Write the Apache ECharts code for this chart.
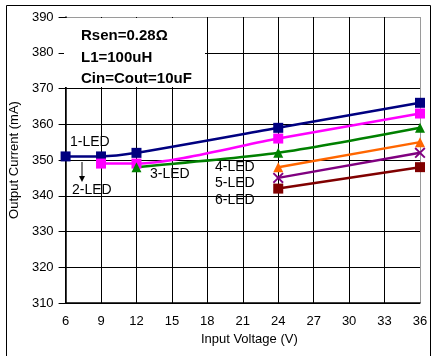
<!DOCTYPE html>
<html>
<head>
<meta charset="utf-8">
<script src="https://cdn.jsdelivr.net/npm/echarts@6/dist/echarts.min.js"></script>
<style>
html,body{margin:0;padding:0;background:#fff;}
#c{width:433px;height:356px;}
</style>
</head>
<body>
<div id="c"></div>
<script>
// ---- data ----
const xTicks = [6, 9, 12, 15, 18, 21, 24, 27, 30, 33, 36];
const yTicks = [310, 320, 330, 340, 350, 360, 370, 380, 390];
const v1 = [6, 9, 12, 24, 36];
const led1 = [351, 351, 352, 359, 366];
const v2 = [9, 12, 24, 36];
const led2 = [349, 349, 356, 363];
const v3 = [12, 24, 36];
const led3 = [348, 352, 359];
const v4 = [24, 36];
const led4 = [348, 355];
const v5 = [24, 36];
const led5 = [345, 352];
const v6 = [24, 36];
const led6 = [342, 348];
const seriesNames = ['1-LED', '2-LED', '3-LED', '4-LED', '5-LED', '6-LED'];
const notes = ['Rsen=0.28\u03A9', 'L1=100uH', 'Cin=Cout=10uF'];

const FONT = '"Liberation Sans", Arial, sans-serif';
const pair = (xs, ys) => xs.map((x, i) => [x, ys[i]]);
const X_PATH = 'path://M0,1.2L1.2,0L5,3.8L8.8,0L10,1.2L6.2,5L10,8.8L8.8,10L5,6.2L1.2,10L0,8.8L3.8,5Z';

function mk(name, data, color, symbol, size) {
  return {
    name: name, type: 'line', data: data, smooth: 0.25,
    symbol: symbol, symbolSize: size, showSymbol: true,
    lineStyle: {color: color, width: 2.5},
    itemStyle: {color: color},
    z: 5
  };
}

const gridColors = yTicks.map((t, i) => i === yTicks.length - 1 ? '#9a9a9a' : '#000');
const xGridColors = xTicks.map((t, i) => i === xTicks.length - 1 ? '#9a9a9a' : '#000');

const chart = echarts.init(document.getElementById('c'), null, {renderer: 'canvas'});
chart.setOption({
  animation: false,
  backgroundColor: '#fff',
  grid: {left: 63, top: 17, width: 357, height: 286, show: false},
  xAxis: {
    type: 'value', min: xTicks[0], max: xTicks[xTicks.length - 1], interval: 3,
    name: 'Input Voltage (V)', nameLocation: 'middle', nameGap: 27,
    nameTextStyle: {fontFamily: FONT, fontSize: 13, color: '#000', padding: [0, 0, 0, 13]},
    axisLine: {show: true, lineStyle: {color: '#000', width: 1.5}},
    axisTick: {show: false},
    axisLabel: {fontFamily: FONT, fontSize: 13, color: '#000', margin: 12},
    splitLine: {show: true, lineStyle: {color: xGridColors, width: 1}}
  },
  yAxis: {
    type: 'value', min: yTicks[0], max: yTicks[yTicks.length - 1], interval: 10,
    name: 'Output Current (mA)', nameLocation: 'middle', nameGap: 34,
    nameTextStyle: {fontFamily: FONT, fontSize: 13, color: '#000'},
    axisLine: {show: true, lineStyle: {color: '#000', width: 1.5}},
    axisTick: {show: true, inside: false, length: 7, lineStyle: {color: '#000'}},
    axisLabel: {fontFamily: FONT, fontSize: 13, color: '#000', margin: 12},
    splitLine: {show: true, lineStyle: {color: gridColors, width: 1}}
  },
  series: [
    mk(seriesNames[0], pair(v1, led1), '#000080', 'rect', 10),
    mk(seriesNames[1], pair(v2, led2), '#ff00ff', 'rect', 10),
    mk(seriesNames[2], pair(v3, led3), '#008000', 'triangle', 10),
    mk(seriesNames[3], pair(v4, led4), '#ff6600', 'triangle', 10),
    mk(seriesNames[4], pair(v5, led5), '#800080', X_PATH, 11),
    mk(seriesNames[5], pair(v6, led6), '#800000', 'rect', 10)
  ],
  graphic: [
    {type: 'rect', z: 1, shape: {x: 6.5, y: 5.5, width: 424, height: 360},
     style: {fill: 'none', stroke: '#000', lineWidth: 1}},
    {type: 'rect', z: 1, shape: {x: 64, y: 18, width: 141, height: 69},
     style: {fill: '#fff', stroke: 'none'}},
    {type: 'text', z: 10, x: 81, y: 36, style: {text: notes[0], font: 'bold 15px ' + FONT, fill: '#000', verticalAlign: 'middle'}},
    {type: 'text', z: 10, x: 81, y: 58, style: {text: notes[1], font: 'bold 15px ' + FONT, fill: '#000', verticalAlign: 'middle'}},
    {type: 'text', z: 10, x: 81, y: 79, style: {text: notes[2], font: 'bold 15px ' + FONT, fill: '#000', verticalAlign: 'middle'}},
    {type: 'text', z: 10, x: 70, y: 142, style: {text: seriesNames[0], font: '14px ' + FONT, fill: '#000', verticalAlign: 'middle'}},
    {type: 'text', z: 10, x: 72, y: 190, style: {text: seriesNames[1], font: '14px ' + FONT, fill: '#000', verticalAlign: 'middle'}},
    {type: 'text', z: 10, x: 150, y: 174, style: {text: seriesNames[2], font: '14px ' + FONT, fill: '#000', verticalAlign: 'middle'}},
    {type: 'text', z: 10, x: 215, y: 167, style: {text: seriesNames[3], font: '14px ' + FONT, fill: '#000', verticalAlign: 'middle'}},
    {type: 'text', z: 10, x: 215, y: 183, style: {text: seriesNames[4], font: '14px ' + FONT, fill: '#000', verticalAlign: 'middle'}},
    {type: 'text', z: 10, x: 215, y: 200, style: {text: seriesNames[5], font: '14px ' + FONT, fill: '#000', verticalAlign: 'middle'}},
    {type: 'line', z: 10, shape: {x1: 82, y1: 162, x2: 82, y2: 177}, style: {stroke: '#000', lineWidth: 1}},
    {type: 'polygon', z: 10, shape: {points: [[79, 176], [85, 176], [82, 182]]}, style: {fill: '#000'}}
  ]
});
</script>
</body>
</html>
